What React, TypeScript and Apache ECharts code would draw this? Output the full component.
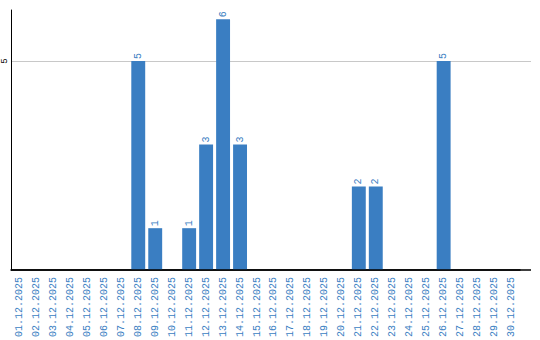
import React, { useEffect, useRef } from "react";
import * as echarts from "echarts";

const categories: string[] = [
  "01.12.2025", "02.12.2025", "03.12.2025", "04.12.2025", "05.12.2025",
  "06.12.2025", "07.12.2025", "08.12.2025", "09.12.2025", "10.12.2025",
  "11.12.2025", "12.12.2025", "13.12.2025", "14.12.2025", "15.12.2025",
  "16.12.2025", "17.12.2025", "18.12.2025", "19.12.2025", "20.12.2025",
  "21.12.2025", "22.12.2025", "23.12.2025", "24.12.2025", "25.12.2025",
  "26.12.2025", "27.12.2025", "28.12.2025", "29.12.2025", "30.12.2025",
];

const values: number[] = [
  0, 0, 0, 0, 0, 0, 0, 5, 1, 0,
  1, 3, 6, 3, 0, 0, 0, 0, 0, 0,
  2, 2, 0, 0, 0, 5, 0, 0, 0, 0,
];

const gridLineValues: number[] = [5];

const BLUE = "#3a7ec2";
const MONO = "'Liberation Mono', 'DejaVu Sans Mono', monospace";
const AXIS_END_X = 531;

export default function App() {
  const ref = useRef<HTMLDivElement>(null);

  useEffect(() => {
    if (!ref.current) return;
    const chart = echarts.init(ref.current, null, { renderer: "svg" });
    chart.setOption({
      animation: false,
      backgroundColor: "#ffffff",
      grid: { left: 10, top: 10, width: 510, bottom: 70, containLabel: false },
      xAxis: {
        type: "category",
        data: categories,
        axisLine: { show: true, lineStyle: { color: "#000000", width: 1.5 } },
        axisTick: { show: false },
        axisLabel: {
          rotate: 90,
          interval: 0,
          margin: 7,
          color: BLUE,
          fontFamily: MONO,
          fontSize: 10,
        },
      },
      yAxis: {
        type: "value",
        min: 0,
        max: 6.22,
        interval: 5,
        axisLine: { show: true, lineStyle: { color: "#000000", width: 1 } },
        axisTick: { show: false },
        splitLine: { show: false },
        axisLabel: {
          rotate: 90,
          margin: 2,
          color: "#000000",
          fontFamily: MONO,
          fontSize: 9,
          formatter: (v: number) => (v === 5 ? "5" : ""),
        },
      },
      series: [
        {
          type: "bar",
          data: values.map((v) => (v === 0 ? { value: 0, label: { show: false } } : v)),
          barCategoryGap: "18%",
          itemStyle: { color: BLUE },
          z: 3,
          label: {
            show: true,
            position: "top",
            rotate: 90,
            align: "left",
            verticalAlign: "middle",
            distance: 2,
            color: BLUE,
            fontFamily: MONO,
            fontSize: 10,
          },
        },
      ],
    });

    const x0 = chart.convertToPixel({ xAxisIndex: 0 }, categories[0]) as number;
    const band = (chart.convertToPixel({ xAxisIndex: 0 }, categories[1]) as number) - x0;
    const left = x0 - band / 2;
    const yZero = chart.convertToPixel({ yAxisIndex: 0 }, 0) as number;
    const graphics: any[] = gridLineValues.map((v) => {
      const y = Math.round(chart.convertToPixel({ yAxisIndex: 0 }, v) as number) + 0.5;
      return {
        type: "line",
        z: 0,
        shape: { x1: left, y1: y, x2: AXIS_END_X, y2: y },
        style: { stroke: "#c8c8c8", lineWidth: 1 },
      };
    });
    graphics.push({
      type: "line",
      z: 10,
      shape: { x1: left, y1: yZero, x2: AXIS_END_X, y2: yZero },
      style: { stroke: "#000000", lineWidth: 1.5 },
    });
    chart.setOption({ graphic: graphics });

    return () => chart.dispose();
  }, []);

  return <div ref={ref} style={{ width: 540, height: 340, position: "absolute", left: 0, top: 0 }} />;
}
